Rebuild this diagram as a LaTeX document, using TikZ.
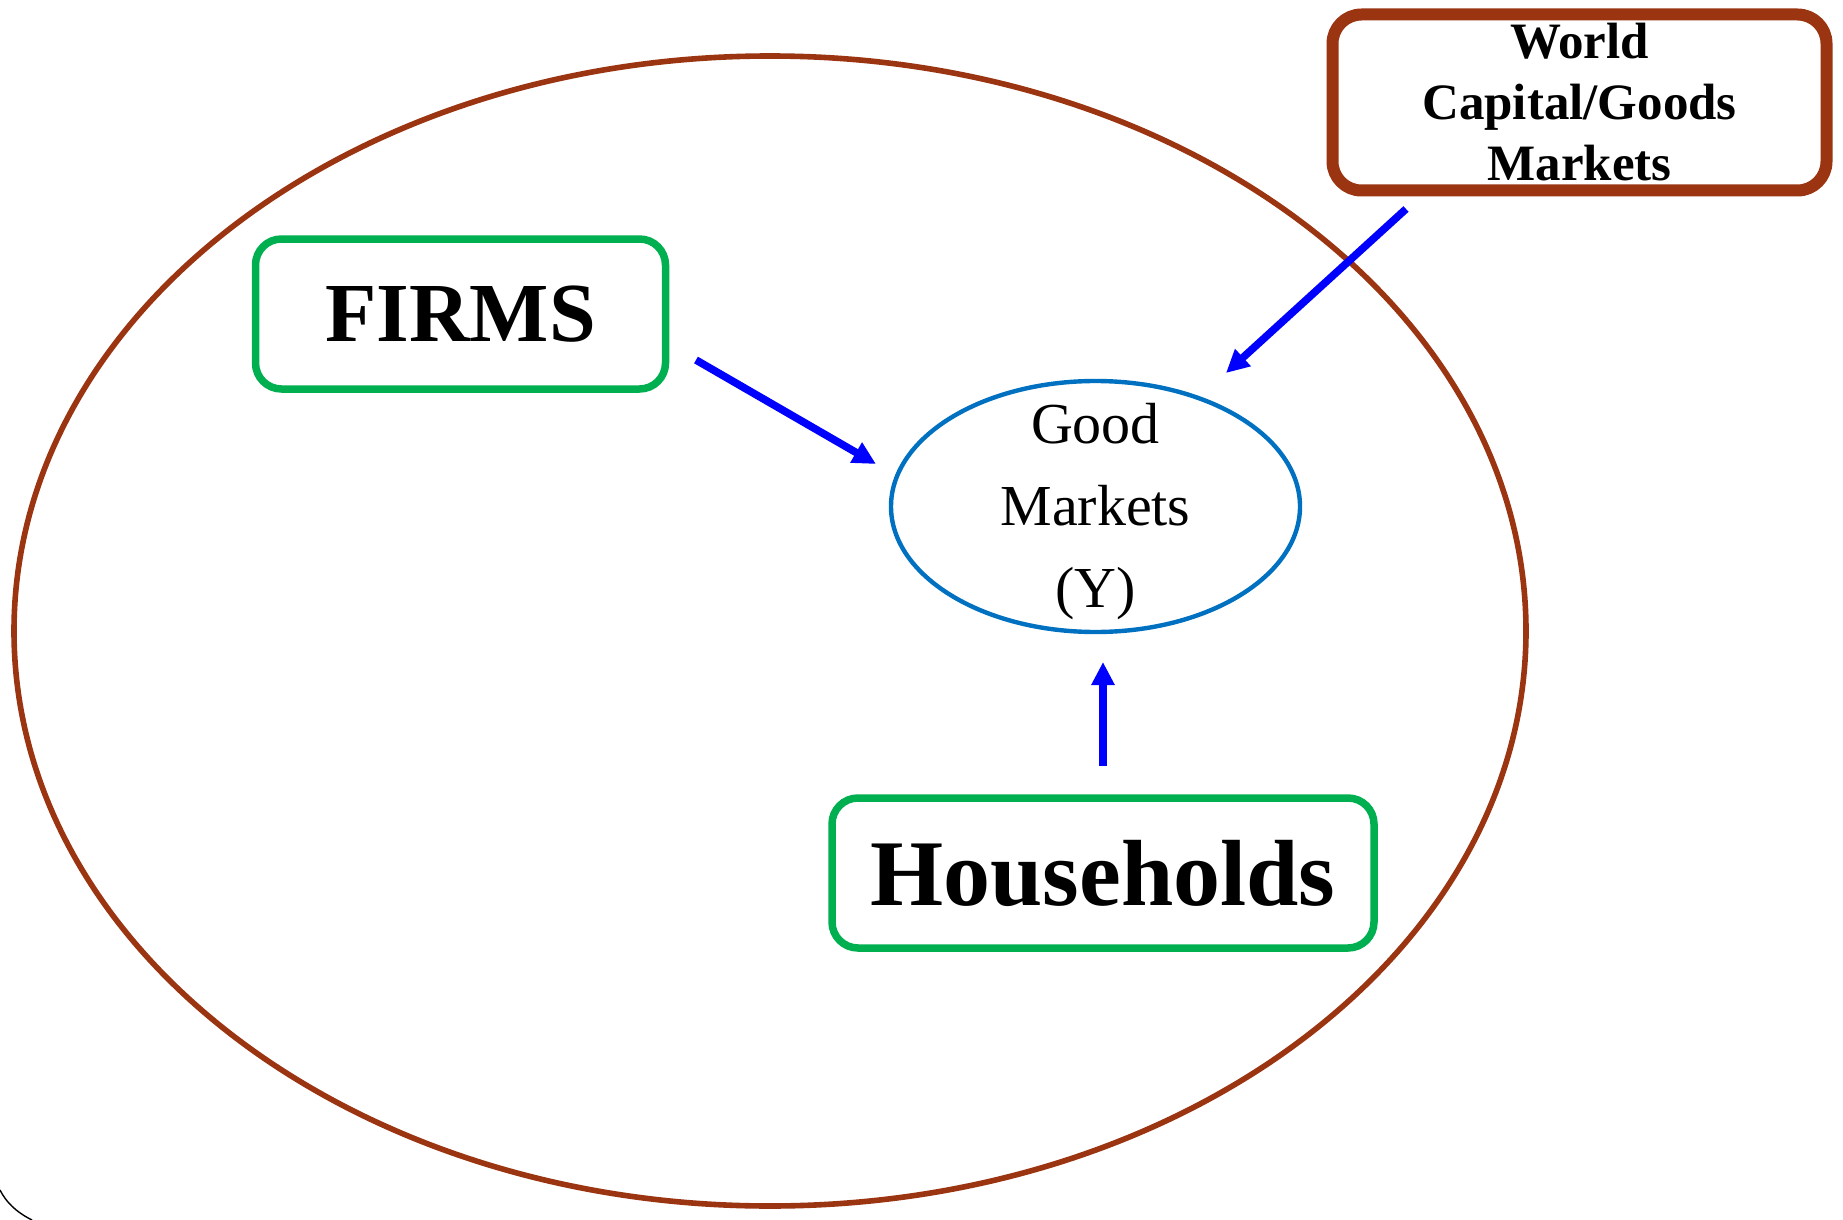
\documentclass[tikz,border=0pt]{standalone}
\usepackage{fontspec}
\setmainfont{Liberation Serif}
\usetikzlibrary{shapes.geometric,arrows.meta}
\definecolor{ringbrown}{RGB}{155,52,17}
\definecolor{boxgreen}{RGB}{0,176,80}
\definecolor{ellblue}{RGB}{0,112,192}
\definecolor{arrblue}{RGB}{0,0,255}
\tikzset{
  agentbox/.style={draw=boxgreen, line width=3.75pt, rounded corners=13pt, inner sep=0pt, align=center},
  worldbox/.style={draw=ringbrown, line width=6pt, rounded corners=14.5pt, inner sep=0pt, align=center, font=\fontsize{25.5pt}{30.5pt}\selectfont\bfseries},
  flow/.style={draw=arrblue, line width=3.8pt, -{Triangle[length=11.5pt,width=11pt]}},
}
\begin{document}
\begin{tikzpicture}[x=0.5pt,y=-0.5pt]
\useasboundingbox (0,0) rectangle (1843,1220);
\fill[white] (0,0) rectangle (1843,1220);
% economy ring
\node (economy) [draw=ringbrown, line width=2.8pt, ellipse, inner sep=0pt, minimum width=756pt, minimum height=575pt] at (770,631) {};
% world box
\node (world) [worldbox, minimum width=247pt, minimum height=88pt] at (1579.5,102.5) {World\\Capital/Goods\\Markets};
% firms
\node (firms) [agentbox, minimum width=205pt, minimum height=75pt, font=\fontsize{42pt}{48pt}\selectfont\bfseries] at (460.5,314) {FIRMS};
% households
\node (house) [agentbox, minimum width=271pt, minimum height=75pt, font=\fontsize{47pt}{52pt}\selectfont\bfseries] at (1103,873) {Households};
% good markets
\node (goods) [draw=ellblue, line width=2.2pt, ellipse, inner sep=0pt, minimum width=204.5pt, minimum height=125.5pt,
  label={[align=center, font=\fontsize{29pt}{41pt}\selectfont, yshift=-2.5pt]center:{Good\\Markets\\(Y)}}] at (1095.5,506.5) {};
% arrow ends
\coordinate (f1) at (696,360);
\coordinate (f2) at (876,464);
\coordinate (w1) at (1406,209);
\coordinate (w2) at (1226,373);
\coordinate (h1) at (1103,766);
\coordinate (h2) at (1103,662);
\draw[flow] (f1) -- (f2);
\draw[flow] (w1) -- (w2);
\draw[flow] (h1) -- (h2);
% corner arc fragment
\draw[line width=0.7pt] (0,1190) .. controls (6,1202) and (16,1212) .. (32,1220);
\end{tikzpicture}
\end{document}
